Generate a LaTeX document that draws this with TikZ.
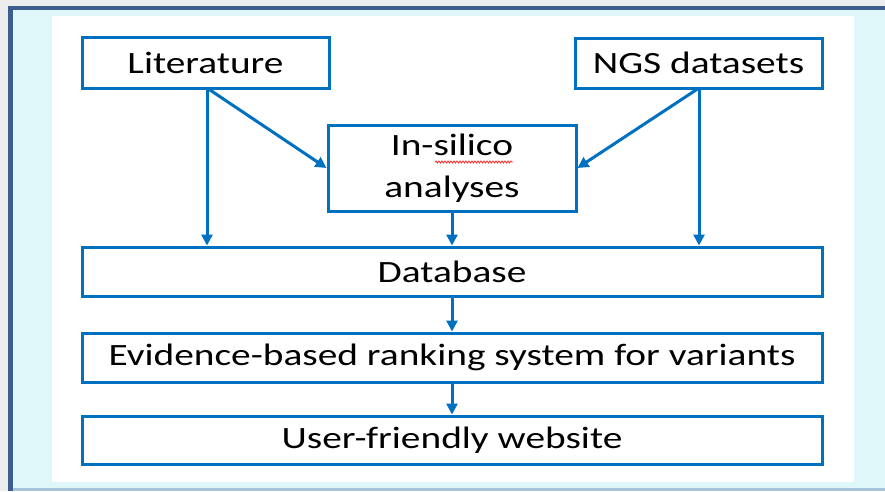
\documentclass[tikz,border=0pt]{standalone}
\usepackage{fontspec}
\setmainfont{Carlito}
\usetikzlibrary{arrows.meta,decorations.pathmorphing}
\definecolor{boxblue}{HTML}{0070C0}
\definecolor{frameblue}{HTML}{3B5E8C}
\definecolor{paleCyan}{HTML}{DFF7F8}
\definecolor{bottomline}{HTML}{A9C3D9}
\definecolor{topgray}{HTML}{EDEDED}
\newcommand{\wtxt}[1]{\scalebox{1.27}[1]{#1}}
\tikzset{
  flowbox/.style={draw=boxblue, line width=3pt, fill=white, inner sep=0pt, align=center,
    font=\fontsize{31}{42}\selectfont, text=black},
  flowarrow/.style={draw=boxblue, line width=3pt, -{Triangle[length=11pt,width=11pt]}},
}
\begin{document}
\begin{tikzpicture}[x=1pt,y=-1pt]
\useasboundingbox (0,0) rectangle (885,491);
% slide background
\fill[topgray] (0,0) rectangle (885,491);
\fill[paleCyan] (8,6) rectangle (885,491);
\fill[frameblue] (8,6) rectangle (885,10);
\fill[frameblue] (8,6) rectangle (13,491);
\fill[bottomline] (13,488) rectangle (885,491);
\fill[white] (52,16) rectangle (854,482);
% boxes
\node[flowbox, minimum width=247pt, minimum height=51pt] (lit) at (205.5,62.5) {\wtxt{Literature}};
\node[flowbox, minimum width=247pt, minimum height=50pt] (ngs) at (698.5,63) {\wtxt{NGS datasets}};
\node[flowbox, minimum width=248pt, minimum height=86pt] (insil) at (452,168) {\wtxt{In-silico}\\\wtxt{analyses}};
\node[flowbox, minimum width=740pt, minimum height=49pt] (db) at (452,271.5) {\wtxt{Database}};
\node[flowbox, minimum width=740pt, minimum height=49pt] (ev) at (452,357.5) {\wtxt{Evidence-based ranking system for variants}};
\node[flowbox, minimum width=740pt, minimum height=48pt] (web) at (452,440) {\wtxt{User-friendly website}};
% spell-check squiggle
\draw[red!85!white, line width=0.8pt, decorate, decoration={snake, amplitude=1pt, segment length=3pt}]
  (435,162) -- (513,162);
% connector start points
\coordinate (la) at (207,88);
\coordinate (na) at (699,88);
\draw[flowarrow] (la) -- (la |- db.north);
\draw[flowarrow] (la) -- (insil.west);
\draw[flowarrow] (na) -- (na |- db.north);
\draw[flowarrow] (na) -- (insil.east);
\draw[flowarrow] (insil.south) -- (db.north);
\draw[flowarrow] (db.south) -- (ev.north);
\draw[flowarrow] (ev.south) -- (web.north);
\end{tikzpicture}
\end{document}
